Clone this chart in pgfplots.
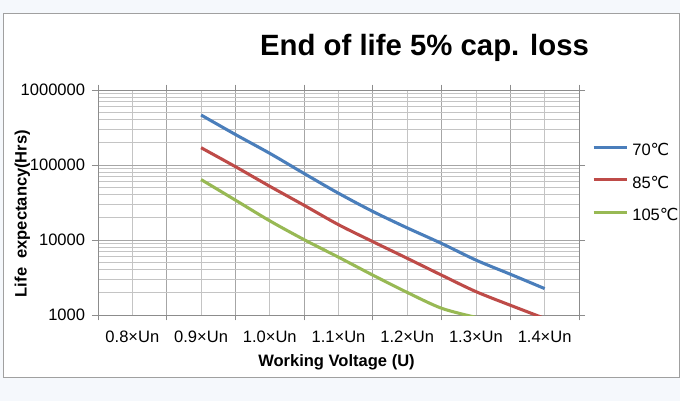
\documentclass[border=0pt]{standalone}
\usepackage{fontspec}
\setmainfont{Liberation Sans}
\newfontfamily\dejavu{DejaVu Sans}
\usepackage{pgfplots}
\pgfplotsset{compat=1.18}
\definecolor{cblue}{HTML}{4A7EBB}
\definecolor{cred}{HTML}{BE4B48}
\definecolor{cgreen}{HTML}{98B954}
\definecolor{bgc}{HTML}{F5F8FC}
\definecolor{framec}{HTML}{A0A0A0}
\definecolor{gridmaj}{HTML}{A6A6A6}
\definecolor{gridmin}{HTML}{C4C4C4}
\begin{document}
\begin{tikzpicture}[x=1pt,y=1pt]
\fill[bgc] (-73.5,-64.5) rectangle (436.5,236.25);
\useasboundingbox (-73.5,-64.5) rectangle (436.5,236.25);
\filldraw[fill=white, draw=framec, line width=0.75pt] (-70.5,-46.5) rectangle (435.75,226.5);
\node[anchor=base, inner sep=0pt, font=\bfseries\fontsize{22}{26}\selectfont] at (244.9,195) {End of life 5\% cap. loss};
\begin{axis}[
  at={(0,0)}, anchor=south west,
  scale only axis, width=360.75pt, height=168.75pt,
  ymode=log, ymin=1000, ymax=1000000,
  xmin=0.75, xmax=1.45,
  xtick={0.8,0.9,1.0,1.1,1.2,1.3,1.4},
  xticklabels={0.8×Un,0.9×Un,1.0×Un,1.1×Un,1.2×Un,1.3×Un,1.4×Un},
  minor xtick={0.75,0.85,0.95,1.05,1.15,1.25,1.35,1.45},
  ytick={1000,10000,100000,1000000},
  yticklabels={1000,10000,100000,1000000},
  minor ytick={2000,3000,4000,5000,6000,7000,8000,9000,20000,30000,40000,50000,60000,70000,80000,90000,200000,300000,400000,500000,600000,700000,800000,900000},
  grid=both,
  major y grid style={draw=gridmaj, line width=0.6pt},
  minor y grid style={draw=gridmin, line width=0.6pt},
  major x grid style={draw=gridmin, line width=0.6pt},
  minor x grid style={draw=gridmaj, line width=0.6pt},
  axis line style={draw=gray!90, line width=0.6pt},
  tick align=outside,
  major tick length=4.5pt, minor tick length=4pt,
  major x tick style={draw=none},
  minor y tick style={draw=none},
  minor x tick style={draw=gray!90, line width=0.6pt},
  major y tick style={draw=gray!90, line width=0.6pt},
  tick label style={font=\fontsize{12.4}{14}\selectfont},
  xticklabel style={anchor=base, yshift=-16pt},
  yticklabel style={anchor=east, inner sep=0pt, xshift=-5pt},
  xlabel={Working Voltage (U)},
  xlabel style={font=\bfseries\fontsize{12.4}{14}\selectfont, at={(axis description cs:0.4958,-0.2287)}, anchor=base, inner sep=0pt},
  ylabel={Life\ \ expectancy(Hrs)},
  ylabel style={font=\bfseries\fontsize{12.4}{14}\selectfont, at={(axis description cs:-0.1483,0.451)}, anchor=base, inner sep=0pt},
  legend style={at={(axis description cs:1.0265,0.59)}, anchor=west, draw=none, fill=none, inner sep=0pt, row sep=15.4pt, column sep=3.2pt,
    font=\fontsize{12.4}{14}\selectfont, nodes={inner sep=0pt, text height=9pt, text depth=0pt}},
  legend cell align=left,
  legend image code/.code={\draw[#1, line width=2.3pt] (0pt,2pt) -- (24.75pt,2pt);},
]
\addplot[cblue, line width=2.3pt, smooth] coordinates {
 (0.90,464000) (0.95,255000) (1.00,143000) (1.05,77000) (1.10,42000) (1.15,24000)
 (1.20,14500) (1.25,9000) (1.30,5400) (1.35,3500) (1.40,2250)};
\addlegendentry{70{\dejavu ℃}}
\addplot[cred, line width=2.3pt, smooth] coordinates {
 (0.90,170000) (0.95,95000) (1.00,52000) (1.05,29000) (1.10,16000) (1.15,9500)
 (1.20,5700) (1.25,3400) (1.30,2050) (1.35,1350) (1.40,900)};
\addlegendentry{85{\dejavu ℃}}
\addplot[cgreen, line width=2.3pt, smooth] coordinates {
 (0.90,64000) (0.95,34000) (1.00,18000) (1.05,10100) (1.10,5900) (1.15,3400)
 (1.20,2000) (1.25,1230) (1.30,930)};
\addlegendentry{105{\dejavu ℃}}
\end{axis}
\end{tikzpicture}
\end{document}
